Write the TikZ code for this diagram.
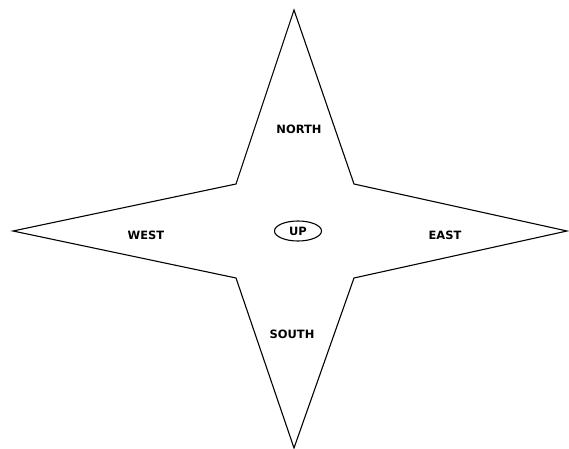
\documentclass[tikz,border=0pt]{standalone}
\usepackage{fontspec}
\setmainfont{DejaVu Sans}
\usetikzlibrary{positioning, shapes.geometric}

\begin{document}
\begin{tikzpicture}[x=1bp, y=-1bp,
    rose/.style={draw=black, line width=1.1pt, line join=miter},
    dirtxt/.style={font=\fontsize{11.5}{13}\selectfont\bfseries, inner sep=1pt},
    haut/.style={dirtxt, draw=black, line width=1.1pt, ellipse, inner sep=0pt,
                 minimum width=47bp, minimum height=20bp}]

  \useasboundingbox (0,0) rectangle (569,449);

  % points of the star
  \coordinate (n) at (294,10);
  \coordinate (e) at (567,231);
  \coordinate (s) at (294,448);
  \coordinate (w) at (13,231);
  \coordinate (ne) at (354,184);
  \coordinate (se) at (354,278);
  \coordinate (sw) at (236,278);
  \coordinate (nw) at (236,184);

  \draw[rose] (n) -- (ne) -- (e) -- (se) -- (s) -- (sw) -- (w) -- (nw) -- cycle;

  \node[dirtxt] (north) at (299,129) {NORTH};
  \node[dirtxt] (west) at (146,235) {WEST};
  \node[dirtxt] (east) at (445,235) {EAST};
  \node[dirtxt] (south) at (292,334) {SOUTH};
  \node[haut] (up) at (298,231) {UP};
\end{tikzpicture}
\end{document}
